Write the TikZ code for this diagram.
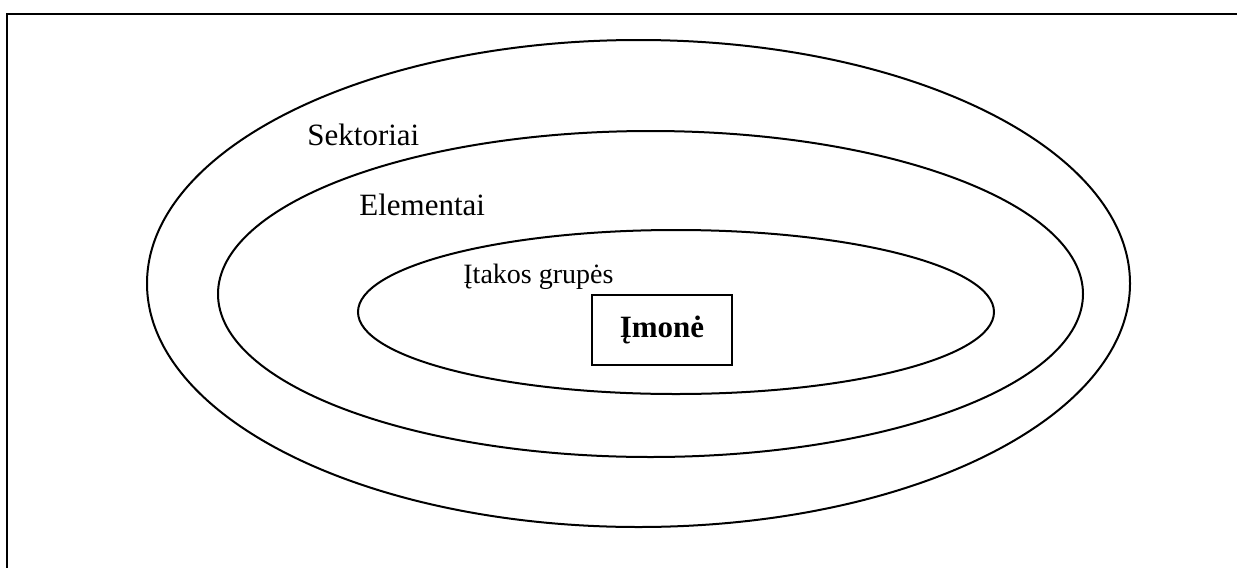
\documentclass[tikz,border=0pt]{standalone}
\usepackage{fontspec}
\setmainfont{Liberation Serif}
\usepackage{tikz}

\begin{document}
\begin{tikzpicture}[x=0.5pt, y=-0.5pt,
  ring/.style={line width=1pt},
  lbl/.style={anchor=base west, inner sep=0pt, font=\fontsize{15.5}{18}\selectfont},
  firm/.style={draw, line width=1pt, minimum width=70pt, minimum height=35pt, font=\fontsize{15.5}{18}\selectfont\bfseries}]
\useasboundingbox (0,0) rectangle (1237,568);
% page frame (only top and left side visible)
\draw[line width=1pt] (1237,13.5) -- (6.5,13.5) -- (6.5,568);

% draw rings
\draw[ring] (638.5,283.5) ellipse [x radius=491.5, y radius=243.5];
\draw[ring] (650.5,294) ellipse [x radius=432.5, y radius=163];
\draw[ring] (676,312) ellipse [x radius=318, y radius=82];

% text
\node[lbl] (sektoriai) at (307,145) {Sektoriai};
\node[lbl] (elementai) at (359,215) {Elementai};
\node[lbl, font=\fontsize{14}{17}\selectfont] (grupes) at (463,283) {Įtakos grupės};
\node[firm] (imone) at (662,330) {Įmonė};
\end{tikzpicture}
\end{document}
